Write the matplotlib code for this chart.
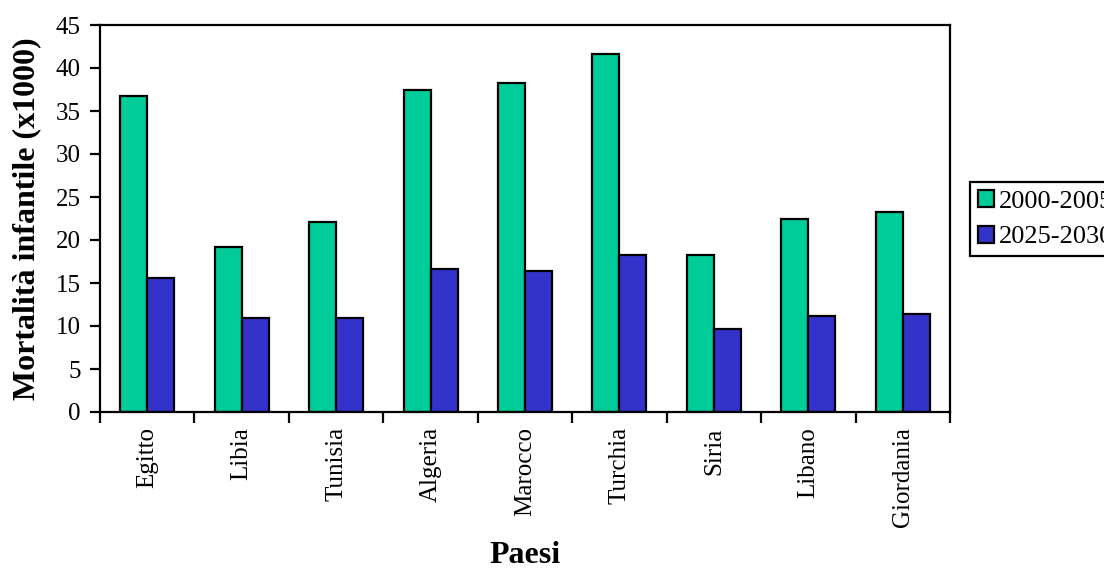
import numpy as np
import matplotlib
matplotlib.use("Agg")
import matplotlib.pyplot as plt
from matplotlib.ticker import FixedLocator, NullFormatter

# dati
paesi = ["Egitto", "Libia", "Tunisia", "Algeria", "Marocco",
         "Turchia", "Siria", "Libano", "Giordania"]
val_2000_2005 = [36.7, 19.2, 22.1, 37.4, 38.2, 41.6, 18.2, 22.5, 23.3]
val_2025_2030 = [15.6, 10.9, 10.9, 16.6, 16.4, 18.3, 9.7, 11.2, 11.4]
serie = ["2000-2005", "2025-2030"]
colori = ["#00CC99", "#3333CC"]
y_ticks = [0, 5, 10, 15, 20, 25, 30, 35, 40, 45]

plt.rcParams["font.family"] = ["Liberation Serif", "DejaVu Serif"]

fig = plt.figure(figsize=(11.04, 5.69), dpi=100)
ax = fig.add_axes([100 / 1104, 1 - 412 / 569, 850 / 1104, 387 / 569])

x = np.arange(len(paesi))
w = 0.286
ax.bar(x - w / 2, val_2000_2005, width=w, color=colori[0],
       edgecolor="black", linewidth=1.6, label=serie[0])
ax.bar(x + w / 2, val_2025_2030, width=w, color=colori[1],
       edgecolor="black", linewidth=1.6, label=serie[1])

ax.set_xlim(-0.5, len(paesi) - 0.5)
ax.set_ylim(0, 45)
ax.set_yticks(y_ticks)
ax.tick_params(axis="y", labelsize=18, length=7, width=1.6, pad=7)

ax.set_xticks(x)
ax.set_xticklabels(paesi, rotation=90)
ax.tick_params(axis="x", which="major", length=0, labelsize=18, pad=11)
ax.xaxis.set_minor_locator(FixedLocator(np.arange(len(paesi) + 1) - 0.5))
ax.xaxis.set_minor_formatter(NullFormatter())
ax.tick_params(axis="x", which="minor", length=8, width=1.6)

for s in ax.spines.values():
    s.set_linewidth(1.6)

ax.set_ylabel("Mortalità infantile (x1000)", fontsize=23, fontweight="bold",
              va="center")
ax.yaxis.set_label_coords(-0.086, 0.5)
ax.set_xlabel("Paesi", fontsize=23, fontweight="bold", va="center")
ax.xaxis.set_label_coords(0.5, -0.372)

# la legenda esce dal bordo destro come nell'originale
leg = ax.legend(loc="upper left", bbox_to_anchor=(970 / 1104, 1 - 182 / 569),
                bbox_transform=fig.transFigure, borderaxespad=0,
                fontsize=19, frameon=True, fancybox=False, framealpha=1,
                handlelength=0.6, handleheight=0.6, handletextpad=0.2,
                borderpad=0.3, labelspacing=0.5)
leg.get_frame().set_edgecolor("black")
leg.get_frame().set_linewidth(1.6)

fig.savefig("out.png", dpi=100)
